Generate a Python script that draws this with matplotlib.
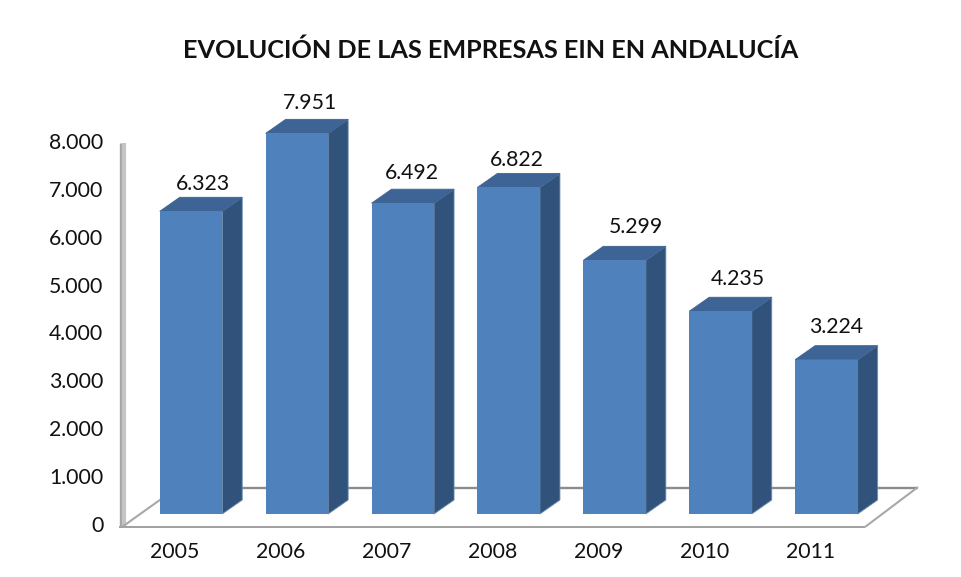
import matplotlib
matplotlib.use('Agg')
import matplotlib.pyplot as plt
from matplotlib.lines import Line2D
from matplotlib.patches import Polygon
from matplotlib.transforms import offset_copy

plt.rcParams['font.family'] = ['Lato', 'DejaVu Sans']

## Data
years = ['2005', '2006', '2007', '2008', '2009', '2010', '2011']
empresas = [6323, 7951, 6492, 6822, 5299, 4235, 3224]
value_labels = ['6.323', '7.951', '6.492', '6.822', '5.299', '4.235', '3.224']
y_ticks = [0, 1000, 2000, 3000, 4000, 5000, 6000, 7000, 8000]
y_ticklabels = ['0', '1.000', '2.000', '3.000', '4.000', '5.000', '6.000', '7.000', '8.000']

## Hand placed label nudges in pixels, as in the original
label_dx = [12, 13, 9, 8, 21, 17, 10]
label_dy = [27, 30, 30, 27, 33, 32, 33]

W, H = 961, 577
STEP = 105.9
BAR_W = 62.5
DEPTH_X, DEPTH_Y = 20, 14
FRONT = '#4f81bd'
SIDE = '#31527a'
TOP = '#3d6495'
EDGE = '#6f8fb0'

fig = plt.figure(figsize=(W/100, H/100), dpi=100)
ax = fig.add_axes([120/W, (H-524)/H, (866-120)/W, (524-141)/H])
ax.set_xlim((120-175)/STEP, (866-175)/STEP)
ax.set_ylim(0, 8000)
ax.patch.set_visible(False)
for spine in ax.spines.values():
    spine.set_visible(False)

ax.set_xticks(range(len(years)))
ax.set_xticklabels(years)
ax.set_yticks(y_ticks)
ax.set_yticklabels(y_ticklabels)
ax.tick_params(axis='x', length=0, pad=13, labelsize=15.3, labelcolor='#111111')
ax.tick_params(axis='y', length=0, pad=12, labelsize=15.3, labelcolor='#111111')


def fig_line(xs, ys, color, lw):
    fig.add_artist(Line2D([x/W for x in xs], [1-y/H for y in ys], color=color,
                          lw=lw, zorder=-1, solid_capstyle='butt'))


## Wall and floor of the 3D frame
fig_line([120.5, 120.5], [143, 527], '#a6a6a6', 2.4)
fig_line([124, 124], [143, 527], '#c4c4c4', 3)
fig_line([119, 865], [527, 527], '#a0a0a0', 1.4)
fig_line([122, 178], [527, 487], '#a8a8a8', 1.5)
fig_line([178, 918], [487.5, 487.5], '#8c8c8c', 1.7)
fig_line([865, 918], [527, 487], '#a8a8a8', 1.5)

## Bars sit 16 px right and 10 px above the axis ticks
shifted = offset_copy(ax.transData, fig=fig, x=16, y=10, units='dots')
bar_w = BAR_W/STEP
dx = DEPTH_X/STEP
dy = DEPTH_Y*8000/383

for i, value in enumerate(empresas):
    left, right = i-bar_w/2, i+bar_w/2
    side = [(right, 0), (right+dx, dy), (right+dx, value+dy), (right, value)]
    top = [(left, value), (left+dx, value+dy), (right+dx, value+dy), (right, value)]
    ax.add_patch(Polygon(side, closed=True, facecolor=SIDE, edgecolor=EDGE, lw=0.6,
                         transform=shifted, clip_on=False, zorder=3))
    ax.add_patch(Polygon(top, closed=True, facecolor=TOP, edgecolor=TOP, lw=0.6,
                         transform=shifted, clip_on=False, zorder=3))

ax.bar(range(len(years)), empresas, width=bar_w, color=FRONT, transform=shifted,
       clip_on=False, zorder=4)

for i, value in enumerate(empresas):
    ax.annotate(value_labels[i], (i, value), xycoords=shifted,
                xytext=(label_dx[i]*0.72, label_dy[i]*0.72), textcoords='offset points',
                ha='center', va='center', fontsize=15.3, color='#111111')

fig.text(491/W, 1-50/H, 'EVOLUCIÓN DE LAS EMPRESAS EIN EN ANDALUCÍA', ha='center', va='center',
         fontsize=18.2, fontweight='bold', color='#111111')

fig.savefig('out.png', dpi=100, facecolor='white')
